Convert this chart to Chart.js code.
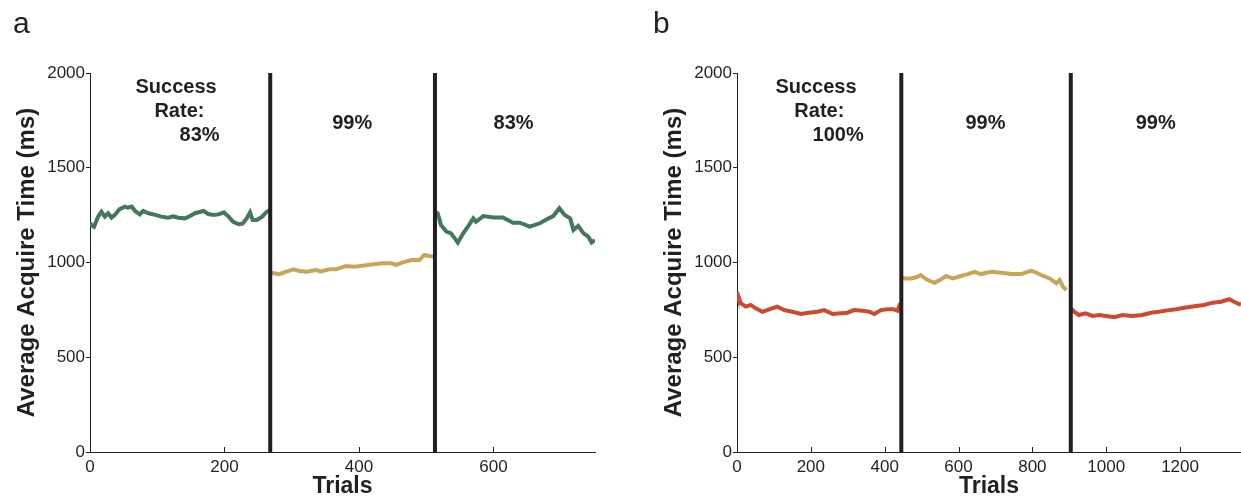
<!DOCTYPE html>
<html>
<head>
<meta charset="utf-8">
<script src="https://cdn.jsdelivr.net/npm/chart.js@4.4.1/dist/chart.umd.min.js"></script>
<style>
  body { margin: 0; background: #fff; width: 1241px; height: 500px; position: relative; overflow: hidden; }
  canvas { position: absolute; top: 0; }
  #chartA { left: 0; }
  #chartB { left: 640px; }
</style>
</head>
<body>
<canvas id="chartA" width="620" height="500"></canvas>
<canvas id="chartB" width="601" height="500"></canvas>
<script>
// running average of acquire time, [trial, ms]
const a_block1 = [[0,1210],[2,1198],[6,1189],[12,1242],[17,1268],[22,1242],[27,1260],[32,1237],[37,1251],[44,1282],[52,1295],[56,1289],[62,1295],[67,1272],[74,1254],[79,1272],[87,1260],[97,1251],[106,1242],[116,1236],[124,1244],[131,1236],[141,1233],[149,1245],[156,1260],[169,1272],[176,1256],[184,1251],[191,1254],[199,1265],[206,1242],[213,1215],[221,1202],[227,1205],[233,1233],[238,1265],[242,1224],[248,1224],[256,1242],[263,1268],[268,1275]];
const a_block2 = [[270,945],[274,943],[281,938],[291,951],[303,964],[311,955],[323,951],[336,960],[343,953],[356,964],[366,964],[381,982],[393,978],[410,985],[425,992],[435,996],[448,996],[455,987],[465,1001],[478,1013],[490,1013],[497,1040],[505,1034],[512,1030]];
const a_block3 = [[515,1265],[517,1260],[522,1198],[530,1163],[537,1154],[547,1105],[555,1154],[562,1189],[570,1233],[574,1215],[585,1245],[600,1238],[614,1238],[629,1210],[639,1210],[654,1189],[669,1207],[682,1233],[689,1245],[698,1286],[706,1251],[714,1233],[719,1172],[726,1193],[734,1154],[741,1136],[746,1105],[751,1119]];

const b_block1 = [[0,845],[1,837],[10,785],[24,767],[37,776],[51,758],[69,740],[87,753],[109,767],[128,749],[150,740],[173,728],[195,735],[218,740],[236,749],[259,728],[281,732],[299,735],[317,749],[340,746],[358,740],[372,728],[390,749],[408,753],[424,753],[435,746],[442,785]];
const b_block2 = [[448,920],[453,916],[471,916],[485,922],[498,934],[512,911],[535,893],[553,911],[566,929],[584,916],[607,929],[625,939],[643,951],[661,939],[688,951],[716,946],[743,939],[770,939],[797,957],[811,946],[829,929],[847,916],[865,890],[874,908],[883,872],[892,855]];
const b_block3 = [[906,755],[913,740],[926,723],[944,732],[963,718],[981,723],[999,718],[1022,711],[1044,723],[1071,718],[1098,723],[1121,735],[1143,740],[1161,746],[1189,753],[1216,763],[1243,770],[1265,776],[1288,788],[1311,793],[1333,806],[1346,793],[1360,781],[1365,778]];

// block boundaries (trial number)
const a_switch = [268, 513];
const b_switch = [445, 904];

const a_rates = ['83%', '99%', '83%'];
const b_rates = ['100%', '99%', '99%'];

const yTicks = [0, 500, 1000, 1500, 2000];
const a_xTicks = [0, 200, 400, 600];
const b_xTicks = [0, 200, 400, 600, 800, 1000, 1200];

const INK = '#231f20';
const GREEN = '#44785a';
const GOLD = '#c9a558';
const RED = '#cd4a30';
const FONT = '"Liberation Sans", Arial, Helvetica, sans-serif';

Chart.defaults.font.family = FONT;
Chart.defaults.color = INK;

// bold rate labels + panel letter
const notesPlugin = {
  id: 'notes',
  afterDatasetsDraw(chart, args, opts) {
    const { ctx, scales: { x, y } } = chart;
    ctx.save();
    ctx.fillStyle = INK;
    ctx.font = 'bold 20px ' + FONT;
    ctx.textAlign = 'center';
    ctx.textBaseline = 'middle';
    opts.items.forEach(n => {
      ctx.fillText(n.text, x.getPixelForValue(n.x), y.getPixelForValue(n.y));
    });
    ctx.font = '30px ' + FONT;
    ctx.textAlign = 'left';
    ctx.textBaseline = 'alphabetic';
    ctx.fillText(opts.letter, opts.letterX, 33);
    ctx.restore();
  }
};

// short ticks pointing into the plot on the trial axis
const innerTicks = {
  id: 'innerTicks',
  afterDraw(chart) {
    const { ctx, scales: { x } } = chart;
    ctx.save();
    ctx.strokeStyle = INK;
    ctx.lineWidth = 1;
    x.ticks.forEach(t => {
      const px = Math.round(x.getPixelForValue(t.value)) + 0.5;
      ctx.beginPath();
      ctx.moveTo(px, x.top);
      ctx.lineTo(px, x.top - 5);
      ctx.stroke();
    });
    ctx.restore();
  }
};

function line(data, color) {
  return {
    data: data.map(p => ({ x: p[0], y: p[1] })),
    borderColor: color, borderWidth: 4, pointRadius: 0,
    showLine: true, tension: 0, order: 1
  };
}

function divider(t) {
  return {
    data: [{ x: t, y: 0 }, { x: t, y: 2000 }],
    borderColor: INK, borderWidth: 4, pointRadius: 0,
    showLine: true, order: 0, clip: false
  };
}

const plain = v => String(v);

function makePanel(id, p) {
  new Chart(document.getElementById(id), {
    type: 'scatter',
    data: {
      datasets: [
        ...p.switches.map(divider),
        line(p.blocks[0], p.colors[0]),
        line(p.blocks[1], p.colors[1]),
        line(p.blocks[2], p.colors[2])
      ]
    },
    options: {
      responsive: false,
      animation: false,
      events: [],
      layout: { padding: { left: 0, right: p.padRight, top: 73, bottom: 0 } },
      plugins: {
        legend: { display: false },
        tooltip: { enabled: false },
        notes: { items: p.notes, letter: p.letter, letterX: 13 }
      },
      scales: {
        x: {
          type: 'linear', min: 0, max: p.xMax,
          afterBuildTicks: s => { s.ticks = p.xTicks.map(v => ({ value: v })); },
          afterFit: s => { s.height = 48; },
          ticks: { font: { size: 17 }, color: INK, padding: 5, maxRotation: 0, callback: plain },
          grid: { drawOnChartArea: false, drawTicks: false },
          border: { color: INK, width: 1 },
          title: {
            display: true, text: 'Trials', color: INK,
            font: { size: 23, weight: 'bold' }, padding: { top: 0, bottom: 0 }
          }
        },
        y: {
          type: 'linear', min: 0, max: 2000,
          afterBuildTicks: s => { s.ticks = yTicks.map(v => ({ value: v })); },
          afterFit: s => { s.width = p.yWidth; },
          ticks: { font: { size: 17 }, color: INK, padding: 1, callback: plain },
          grid: { drawOnChartArea: false, tickLength: 4, color: INK },
          border: { color: INK, width: 1 },
          title: {
            display: true, text: 'Average Acquire Time (ms)', color: INK,
            font: { size: 24, weight: 'bold' }, padding: { top: p.titlePad, bottom: 0 }
          }
        }
      }
    },
    plugins: [notesPlugin, innerTicks]
  });
}

makePanel('chartA', {
  blocks: [a_block1, a_block2, a_block3],
  colors: [GREEN, GOLD, GREEN],
  switches: a_switch,
  xMax: 751, xTicks: a_xTicks,
  yWidth: 90, padRight: 25, titlePad: 13,
  letter: 'a',
  notes: [
    { text: 'Success', x: 128, y: 1923 },
    { text: 'Rate:', x: 133, y: 1797 },
    { text: a_rates[0], x: 163, y: 1670 },
    { text: a_rates[1], x: 390, y: 1735 },
    { text: a_rates[2], x: 630, y: 1735 }
  ]
});

makePanel('chartB', {
  blocks: [b_block1, b_block2, b_block3],
  colors: [RED, GOLD, RED],
  switches: b_switch,
  xMax: 1365, xTicks: b_xTicks,
  yWidth: 97, padRight: 0, titlePad: 20,
  letter: 'b',
  notes: [
    { text: 'Success', x: 214, y: 1923 },
    { text: 'Rate:', x: 223, y: 1797 },
    { text: b_rates[0], x: 274, y: 1670 },
    { text: b_rates[1], x: 673, y: 1735 },
    { text: b_rates[2], x: 1134, y: 1735 }
  ]
});
</script>
</body>
</html>
